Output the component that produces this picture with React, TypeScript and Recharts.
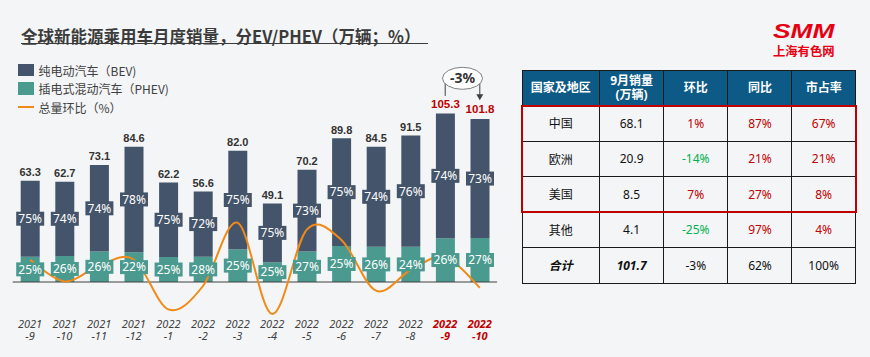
import React from "react";
import {
  ComposedChart,
  Bar,
  Line,
  XAxis,
  YAxis,
  LabelList,
  ReferenceLine,
} from "recharts";

// monthly sales, 10k units
const months = [
  "2021-9", "2021-10", "2021-11", "2021-12", "2022-1", "2022-2", "2022-3",
  "2022-4", "2022-5", "2022-6", "2022-7", "2022-8", "2022-9", "2022-10",
];
const totals = [63.3, 62.7, 73.1, 84.6, 62.2, 56.6, 82.0, 49.1, 70.2, 89.8, 84.5, 91.5, 105.3, 101.8];
const bevSales = [47.5, 46.4, 54.1, 66.0, 46.6, 40.8, 61.5, 36.8, 51.2, 67.3, 62.5, 69.5, 77.9, 74.3];
const phevSales = [15.8, 16.3, 19.0, 18.6, 15.6, 15.8, 20.5, 12.3, 19.0, 22.5, 22.0, 22.0, 27.4, 27.5];
const bevShare = [75, 74, 74, 78, 75, 72, 75, 75, 73, 75, 74, 76, 74, 73];
const phevShare = [25, 26, 26, 22, 25, 28, 25, 25, 27, 25, 26, 24, 26, 27];
// total month-on-month, %
const totalMoM = [14.3, -4.5, 9.3, 14.7, -29.0, -8.5, 46.9, -33.0, 40.8, 31.8, -12.6, 5.5, 16.9, -10.0];
const highlighted = ["2022-9", "2022-10"];
const momNote = "-3%";

// table
const tableHeaders = ["国家及地区", "9月销量\n(万辆)", "环比", "同比", "市占率"];
const regions = ["中国", "欧洲", "美国", "其他", "合计"];
const septSales = ["68.1", "20.9", "8.5", "4.1", "101.7"];
const regionMoM = ["1%", "-14%", "7%", "-25%", "-3%"];
const regionYoY = ["87%", "21%", "27%", "97%", "62%"];
const marketShare = ["67%", "21%", "8%", "4%", "100%"];

const BEV = "#44546A";
const PHEV = "#4B9A8F";
const ORANGE = "#F28A17";
const RED = "#C00000";
const GREEN = "#00B050";
const BG = "#F4F5F7";
const TXT = "#3B3B3B";
const FONT = "'Noto Sans', 'Noto Sans CJK SC', sans-serif";

const data = months.map((m, i) => ({
  month: m,
  bev: bevSales[i],
  phev: phevSales[i],
  bevPct: bevShare[i],
  phevPct: phevShare[i],
  plainTotal: highlighted.includes(m) ? null : totals[i],
  hotTotal: highlighted.includes(m) ? totals[i] : null,
  mom: totalMoM[i],
}));

// Excel-like smoothed line (Catmull-Rom through every point)
const smoothCurve: any = (ctx: any) => {
  let pts: number[][] = [];
  return {
    areaStart() {},
    areaEnd() {},
    lineStart() {
      pts = [];
    },
    point(x: number, y: number) {
      pts.push([+x, +y]);
    },
    lineEnd() {
      if (!pts.length) return;
      ctx.moveTo(pts[0][0], pts[0][1]);
      for (let i = 0; i < pts.length - 1; i++) {
        const p0 = pts[i - 1] ?? pts[i];
        const p1 = pts[i];
        const p2 = pts[i + 1];
        const p3 = pts[i + 2] ?? p2;
        ctx.bezierCurveTo(
          p1[0] + (p2[0] - p0[0]) / 6,
          p1[1] + (p2[1] - p0[1]) / 6,
          p2[0] - (p3[0] - p1[0]) / 6,
          p2[1] - (p3[1] - p1[1]) / 6,
          p2[0],
          p2[1]
        );
      }
    },
  };
};

const box = (p: any) => {
  const vb = p.viewBox ?? p;
  return { cx: vb.x + vb.width / 2, top: Math.min(vb.y, vb.y + vb.height), cy: vb.y + vb.height / 2 };
};

const pctLabel = (color: string) => (p: any) => {
  if (p.value == null) return null;
  const { cx, cy } = box(p);
  return (
    <g>
      <rect x={cx - 14} y={cy - 7} width={28} height={14} fill={color} />
      <text x={cx} y={cy + 4.3} textAnchor="middle" fill="#fff" fontSize={12} fontFamily={FONT}>
        {p.value}%
      </text>
    </g>
  );
};

const totalLabel = (color: string, size: number, gap: number) => (p: any) => {
  if (p.value == null) return null;
  const { cx, top } = box(p);
  return (
    <text x={cx} y={top - gap} textAnchor="middle" fill={color} fontSize={size} fontWeight="bold" fontFamily="'Liberation Sans', Arial, sans-serif">
      {Number(p.value).toFixed(1)}
    </text>
  );
};

const MonthTick = (p: any) => {
  const [yr, m] = String(p.payload.value).split("-");
  const hot = highlighted.includes(p.payload.value);
  return (
    <text
      x={p.x}
      y={p.y}
      textAnchor="middle"
      fontSize={11}
      fontStyle="italic"
      fontWeight={hot ? "bold" : "normal"}
      fill={hot ? RED : "#404040"}
      fontFamily={FONT}
    >
      <tspan x={p.x} dy={12.7}>{yr}</tspan>
      <tspan x={p.x} dy={11.7}>-{m}</tspan>
    </text>
  );
};

const arrowShape = (p: any) => (
  <g>
    <line x1={p.x1} y1={p.y1} x2={p.x2} y2={p.y2 - 4} stroke="#404040" strokeWidth={1} />
    <polygon points={`${p.x2 - 3.5},${p.y2 - 6} ${p.x2 + 3.5},${p.y2 - 6} ${p.x2},${p.y2}`} fill="#404040" />
  </g>
);

const noteShape = (p: any) => {
  const cx = (p.x1 + p.x2) / 2;
  return (
    <g>
      <ellipse cx={cx} cy={p.y1} rx={20} ry={11} fill="#fff" stroke="#7F7F7F" strokeWidth={1} />
      <text x={cx} y={p.y1 + 5} textAnchor="middle" fontSize={14} fontWeight="bold" fill="#333" fontFamily={FONT}>
        {momNote}
      </text>
    </g>
  );
};

function NevChart() {
  return (
    <ComposedChart
      width={510}
      height={357}
      data={data}
      margin={{ top: 66, right: 12.9, bottom: 11.4, left: 12.7 }}
    >
      <XAxis
        xAxisId="main"
        dataKey="month"
        interval={0}
        axisLine={false}
        tickLine={false}
        tickSize={0}
        tickMargin={0}
        height={30}
        tick={<MonthTick />}
      />
      <XAxis xAxisId="lab" dataKey="month" orientation="top" height={0} hide />
      <YAxis yAxisId="l" domain={[-21, 135]} allowDataOverflow hide />
      <YAxis yAxisId="r" orientation="right" domain={[-34.4, 184]} hide />

      <Bar xAxisId="main" yAxisId="l" dataKey="phev" stackId="s" fill={PHEV} barSize={19} isAnimationActive={false} />
      <Bar xAxisId="main" yAxisId="l" dataKey="bev" stackId="s" fill={BEV} barSize={19} isAnimationActive={false} />
      <ReferenceLine xAxisId="main" yAxisId="l" y={0} stroke="#404040" strokeWidth={1} />

      <Line
        xAxisId="main"
        yAxisId="r"
        dataKey="mom"
        type={smoothCurve}
        stroke={ORANGE}
        strokeWidth={2}
        dot={false}
        activeDot={false}
        isAnimationActive={false}
      />

      {/* transparent copies that carry the labels above the line */}
      <Bar xAxisId="lab" yAxisId="l" dataKey="phev" stackId="t" fill="transparent" barSize={19} isAnimationActive={false} legendType="none">
        <LabelList dataKey="phevPct" content={pctLabel(PHEV)} />
      </Bar>
      <Bar xAxisId="lab" yAxisId="l" dataKey="bev" stackId="t" fill="transparent" barSize={19} isAnimationActive={false} legendType="none">
        <LabelList dataKey="bevPct" content={pctLabel(BEV)} />
        <LabelList dataKey="plainTotal" content={totalLabel("#333", 11, 4.7)} />
        <LabelList dataKey="hotTotal" content={totalLabel(RED, 11.5, 6)} />
      </Bar>

      <ReferenceLine
        xAxisId="main"
        yAxisId="l"
        segment={[{ x: months[12], y: 125 }, { x: months[12], y: 116.3 }]}
        stroke="#404040"
      />
      <ReferenceLine
        xAxisId="main"
        yAxisId="l"
        segment={[{ x: months[13], y: 125 }, { x: months[13], y: 113.6 }]}
        shape={arrowShape}
      />
      <ReferenceLine
        xAxisId="main"
        yAxisId="l"
        segment={[{ x: months[12], y: 127.3 }, { x: months[13], y: 127.3 }]}
        shape={noteShape}
      />
    </ComposedChart>
  );
}

const cellColor = (v: string, row: number) =>
  row === regions.length - 1 ? "#111" : v.startsWith("-") ? GREEN : RED;

function RegionTable() {
  const colW = [77.6, 64, 64.4, 64, 63.3];
  const cell: React.CSSProperties = {
    border: "1px solid #1a1a1a",
    padding: 0,
    textAlign: "center",
    verticalAlign: "middle",
  };
  return (
    <table
      style={{
        position: "absolute",
        left: 521.5,
        top: 70,
        width: 333.3,
        borderCollapse: "collapse",
        tableLayout: "fixed",
        fontFamily: FONT,
        fontSize: 12,
        color: "#111",
      }}
    >
      <colgroup>
        {colW.map((w, i) => (
          <col key={i} style={{ width: w }} />
        ))}
      </colgroup>
      <thead>
        <tr style={{ height: 35, background: "#0D5A86", color: "#fff" }}>
          {tableHeaders.map((h) => (
            <th key={h} style={{ ...cell, fontWeight: "bold", whiteSpace: "pre-line", lineHeight: "14px" }}>
              {h}
            </th>
          ))}
        </tr>
      </thead>
      <tbody>
        {regions.map((r, i) => {
          const total = i === regions.length - 1;
          const strong: React.CSSProperties = total ? { fontWeight: "bold", fontStyle: "italic" } : {};
          return (
            <tr key={r} style={{ height: 35.5 }}>
              <td style={{ ...cell, ...strong }}>{r}</td>
              <td style={{ ...cell, ...strong }}>{septSales[i]}</td>
              <td style={{ ...cell, color: cellColor(regionMoM[i], i) }}>{regionMoM[i]}</td>
              <td style={{ ...cell, color: cellColor(regionYoY[i], i) }}>{regionYoY[i]}</td>
              <td style={{ ...cell, color: cellColor(marketShare[i], i) }}>{marketShare[i]}</td>
            </tr>
          );
        })}
      </tbody>
    </table>
  );
}

const legendItems = [
  { label: "纯电动汽车（BEV)", color: BEV, kind: "box" },
  { label: "插电式混动汽车（PHEV)", color: PHEV, kind: "box" },
  { label: "总量环比（%）", color: ORANGE, kind: "line" },
];

export default function App() {
  return (
    <div
      style={{
        position: "absolute",
        left: 0,
        top: 0,
        width: 870,
        height: 357,
        background: BG,
        overflow: "hidden",
        fontFamily: FONT,
      }}
    >
      <div style={{ position: "absolute", left: 0, top: 0 }}>
        <NevChart />
      </div>

      <div
        style={{
          position: "absolute",
          left: 21,
          top: 25,
          fontSize: 16.5,
          lineHeight: "22px",
          fontWeight: "bold",
          color: TXT,
          whiteSpace: "nowrap",
          fontFamily: "'Noto Sans CJK SC', sans-serif",
        }}
      >
        全球新能源乘用车月度销量，分EV/PHEV（万辆；%）
      </div>
      <div style={{ position: "absolute", left: 21, top: 42.5, width: 407, height: 1.6, background: TXT }} />

      {legendItems.map((it, i) => (
        <div
          key={it.label}
          style={{
            position: "absolute",
            left: 18,
            top: 61 + i * 18.5,
            height: 18,
            display: "flex",
            alignItems: "center",
            fontSize: 12,
            color: "#404040",
            whiteSpace: "nowrap",
            fontFamily: "'Noto Sans CJK SC', sans-serif",
          }}
        >
          <span
            style={{
              display: "inline-block",
              width: 15.5,
              height: it.kind === "box" ? 12.5 : 2,
              background: it.color,
              marginRight: 5,
            }}
          />
          {it.label}
        </div>
      ))}

      <div
        style={{
          position: "absolute",
          left: 773,
          top: 20.7,
          fontSize: 19.5,
          lineHeight: "20px",
          fontWeight: 900,
          fontStyle: "italic",
          color: "#E60012",
          fontFamily: "'Liberation Sans', Arial, sans-serif",
          transform: "scaleX(1.35)",
          transformOrigin: "left center",
          whiteSpace: "nowrap",
        }}
      >
        SMM
      </div>
      <div
        style={{
          position: "absolute",
          left: 773,
          top: 43,
          fontSize: 12.3,
          fontWeight: "bold",
          color: "#E60012",
          fontFamily: "'Noto Sans CJK SC', sans-serif",
          lineHeight: "16px",
          whiteSpace: "nowrap",
        }}
      >
        上海有色网
      </div>

      <RegionTable />
      <div
        style={{
          position: "absolute",
          left: 520.5,
          top: 104.5,
          width: 336,
          height: 108.5,
          border: `2px solid ${RED}`,
          boxSizing: "border-box",
        }}
      />
    </div>
  );
}
